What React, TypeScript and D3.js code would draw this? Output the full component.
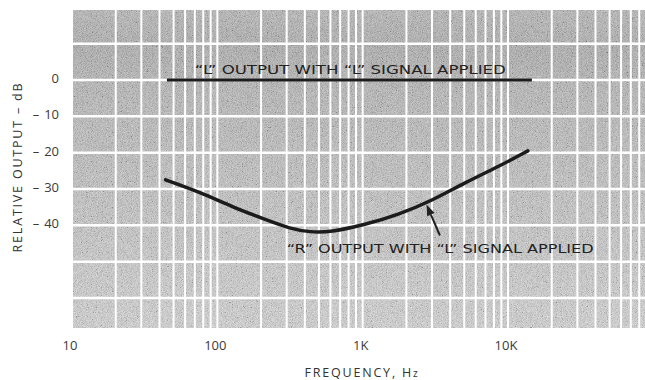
import * as d3 from 'd3';
import React, { useRef, useEffect } from 'react';

const W = 645;
const H = 380;

// axis ticks
const xTicks = [10, 100, 1000, 10000];
const xTickLabels = ['10', '100', '1K', '10K'];
const yTicks = [0, -10, -20, -30, -40];
const yGrid = [10, 0, -10, -20, -30, -40, -50, -60];
const decades = [10, 100, 1000, 10000];

// "L" output with "L" signal applied
const lFreq = [45, 14600];
const lDb = [0, 0];

// "R" output with "L" signal applied (crosstalk)
const rFreq = [44, 75, 128, 220, 316, 435, 600, 1040, 1750, 3000, 5070, 8550, 13700];
const rDb = [-27.5, -30.8, -35, -38.6, -40.9, -41.9, -41.9, -39.8, -37.1, -33.2, -28.2, -23.9, -19.5];

function ResponseChart() {
  const ref = useRef(null);

  useEffect(() => {
    draw();
  }, []);

  const draw = () => {
    const svg = d3.select(ref.current);
    svg.selectAll('*').remove();

    const left = 72, right = W, top = 10, bottom = 328;

    const x = d3.scaleLog().domain([10, 10000]).range([72, 508]);
    const y = d3.scaleLinear().domain([0, -60]).range([80, 298]);

    const defs = svg.append('defs');

    const grad = defs.append('linearGradient')
      .attr('id', 'paper')
      .attr('x1', 0).attr('y1', 0).attr('x2', 0).attr('y2', 1);
    [['0%', '#b6b6b6'], ['12%', '#acacac'], ['25%', '#b6b6b6'], ['60%', '#c3c3c3'], ['100%', '#d3d3d3']]
      .forEach(([o, c]) => grad.append('stop').attr('offset', o).attr('stop-color', c));

    const f = defs.append('filter').attr('id', 'grain')
      .attr('x', 0).attr('y', 0).attr('width', '100%').attr('height', '100%');
    f.append('feTurbulence')
      .attr('type', 'fractalNoise')
      .attr('baseFrequency', 1.2)
      .attr('numOctaves', 1)
      .attr('seed', 7);
    f.append('feColorMatrix').attr('type', 'saturate').attr('values', 0);
    const ct = f.append('feComponentTransfer');
    ['feFuncR', 'feFuncG', 'feFuncB'].forEach(n =>
      ct.append(n).attr('type', 'linear').attr('slope', 2.4).attr('intercept', -0.7));
    ct.append('feFuncA').attr('type', 'linear').attr('slope', 0).attr('intercept', 1);

    defs.append('clipPath').attr('id', 'plot')
      .append('rect')
      .attr('x', left).attr('y', top)
      .attr('width', right - left).attr('height', bottom - top);

    // paper background
    svg.append('rect')
      .attr('x', left).attr('y', top)
      .attr('width', right - left).attr('height', bottom - top)
      .attr('fill', 'url(#paper)');

    svg.append('rect')
      .attr('x', left).attr('y', top)
      .attr('width', right - left).attr('height', bottom - top)
      .attr('filter', 'url(#grain)')
      .attr('opacity', 0.28);

    // white grid
    const grid = svg.append('g').attr('clip-path', 'url(#plot)');
    const vLines = [];
    decades.forEach(d => {
      for (let k = 1; k <= 9; k++) {
        if (x(d * k) <= right + 1) vLines.push(d * k);
      }
    });
    grid.selectAll('line.v')
      .data(vLines)
      .enter()
      .append('line')
      .attr('x1', d => x(d)).attr('x2', d => x(d))
      .attr('y1', top).attr('y2', bottom)
      .attr('stroke', '#fff')
      .attr('stroke-width', 2);

    grid.selectAll('line.h')
      .data(yGrid)
      .enter()
      .append('line')
      .attr('x1', left).attr('x2', right)
      .attr('y1', d => y(d)).attr('y2', d => y(d))
      .attr('stroke', '#fff')
      .attr('stroke-width', 2.5);

    // curves
    const line = d3.line()
      .x(d => x(d[0]))
      .y(d => y(d[1]))
      .curve(d3.curveBasis);

    svg.append('path')
      .datum(lFreq.map((v, i) => [v, lDb[i]]))
      .attr('d', line)
      .attr('fill', 'none')
      .attr('stroke', '#1c1c1c')
      .attr('stroke-width', 3);

    svg.append('path')
      .datum(rFreq.map((v, i) => [v, rDb[i]]))
      .attr('d', line)
      .attr('fill', 'none')
      .attr('stroke', '#1c1c1c')
      .attr('stroke-width', 3.5)
      .attr('stroke-linecap', 'round');

    // curve labels
    svg.append('text')
      .attr('x', x(70)).attr('y', y(0) - 6)
      .attr('font-family', 'DejaVu Sans, sans-serif')
      .attr('font-size', 13)
      .attr('fill', '#222')
      .attr('textLength', 311)
      .attr('lengthAdjust', 'spacingAndGlyphs')
      .text('\u201CL\u201D OUTPUT WITH \u201CL\u201D SIGNAL APPLIED');

    svg.append('text')
      .attr('x', x(300)).attr('y', y(-47.5))
      .attr('font-family', 'DejaVu Sans, sans-serif')
      .attr('font-size', 13)
      .attr('fill', '#222')
      .attr('textLength', 307)
      .attr('lengthAdjust', 'spacingAndGlyphs')
      .text('\u201CR\u201D OUTPUT WITH \u201CL\u201D SIGNAL APPLIED');

    // arrow
    const tip = [x(2750), y(-34.3)];
    const tail = [x(3400), y(-42.8)];
    const ang = Math.atan2(tip[1] - tail[1], tip[0] - tail[0]);
    const hl = 11, hw = 4;
    const base = [tip[0] - hl * Math.cos(ang), tip[1] - hl * Math.sin(ang)];
    svg.append('line')
      .attr('x1', tail[0]).attr('y1', tail[1])
      .attr('x2', base[0]).attr('y2', base[1])
      .attr('stroke', '#222')
      .attr('stroke-width', 2);
    svg.append('path')
      .attr('d', `M${tip[0]},${tip[1]}L${base[0] + hw * Math.sin(ang)},${base[1] - hw * Math.cos(ang)}L${base[0] - hw * Math.sin(ang)},${base[1] + hw * Math.cos(ang)}Z`)
      .attr('fill', '#222');

    // y tick labels
    const yl = svg.append('g')
      .attr('font-family', 'Open Sans, DejaVu Sans, sans-serif')
      .attr('font-size', 13)
      .attr('fill', '#3a3a3a');
    yl.selectAll('text.num')
      .data(yTicks)
      .enter()
      .append('text')
      .attr('x', 59)
      .attr('y', d => y(d) + 3)
      .attr('text-anchor', 'end')
      .text(d => Math.abs(d));
    yl.selectAll('text.dash')
      .data(yTicks.filter(d => d < 0))
      .enter()
      .append('text')
      .attr('x', 36)
      .attr('y', d => y(d) + 3)
      .attr('text-anchor', 'middle')
      .text('\u2013');

    // x tick labels
    svg.append('g')
      .attr('font-family', 'Open Sans, DejaVu Sans, sans-serif')
      .attr('font-size', 13)
      .attr('fill', '#3a3a3a')
      .selectAll('text')
      .data(xTicks)
      .enter()
      .append('text')
      .attr('x', d => x(d) - 2)
      .attr('y', 350)
      .attr('text-anchor', 'middle')
      .text((d, i) => xTickLabels[i]);

    // axis titles
    svg.append('text')
      .attr('transform', 'translate(22,167) rotate(-90)')
      .attr('text-anchor', 'middle')
      .attr('font-family', 'Open Sans, DejaVu Sans, sans-serif')
      .attr('font-size', 12.5)
      .attr('letter-spacing', 1.8)
      .attr('fill', '#333')
      .text('RELATIVE OUTPUT \u2013 dB');

    const xt = svg.append('text')
      .attr('x', 362).attr('y', 377)
      .attr('text-anchor', 'middle')
      .attr('font-family', 'Open Sans, DejaVu Sans, sans-serif')
      .attr('font-size', 12.5)
      .attr('letter-spacing', 1.8)
      .attr('fill', '#333');
    xt.append('tspan').text('FREQUENCY, H');
    xt.append('tspan').attr('font-size', 10).text('z');
  };

  return (
    <svg
      ref={ref}
      width={W}
      height={H}
      style={{ position: 'absolute', left: 0, top: 0, background: '#fff', display: 'block' }}
    />
  );
}

export default function App() {
  return <ResponseChart />;
}
